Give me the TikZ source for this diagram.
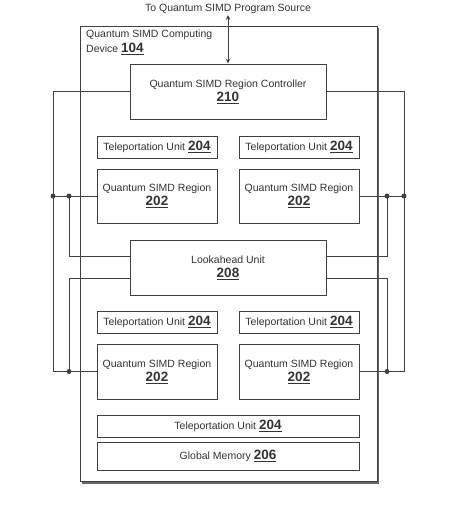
\documentclass[tikz,border=0pt]{standalone}
\usepackage{fontspec}
\setmainfont{Liberation Sans}
\usetikzlibrary{arrows.meta}
\newcommand{\rnum}[1]{{\fontsize{13.5}{13.5}\selectfont\bfseries\underline{#1}}}
\begin{document}
\begin{tikzpicture}[x=1pt,y=-1pt,
  box/.style={draw=black!75, line width=0.9pt, fill=white, text=black!80,
    font=\fontsize{10.5}{14}\selectfont, align=center, inner sep=0pt},
  wire/.style={draw=black!75, line width=0.9pt},
  dot/.style={circle, fill=black!75, inner sep=0pt, minimum size=5pt},
  lbl/.style={text=black!80, font=\fontsize{10.5}{15}\selectfont, inner sep=1pt}]
\useasboundingbox (0,0) rectangle (458,515);
% outer device box with shadow
\fill[black!60] (81.5,27.5) rectangle (379,483.5);
\node[draw=black!75, line width=0.9pt, fill=white, minimum width=297pt, minimum height=455pt, inner sep=0pt] (dev) at (228.5,253.5) {};
\node[lbl, anchor=north west, align=left, inner sep=0pt] (devlbl) at (86,30) {Quantum SIMD Computing\\Device \rnum{104}};
% source label
\node[lbl] (src) at (228,9) {To Quantum SIMD Program Source};
% boxes
\node[box, minimum width=196pt, minimum height=55pt] (ctrl) at (228,91.5) {Quantum SIMD Region Controller\\\rnum{210}};
\node[box, minimum width=120pt, minimum height=22pt] (t1L) at (157,147) {Teleportation Unit \rnum{204}};
\node[box, minimum width=120pt, minimum height=22pt] (t1R) at (299,147) {Teleportation Unit \rnum{204}};
\node[box, minimum width=120pt, minimum height=54pt] (r1L) at (157,196) {Quantum SIMD Region\\\rnum{202}};
\node[box, minimum width=120pt, minimum height=54pt] (r1R) at (299,196) {Quantum SIMD Region\\\rnum{202}};
\node[box, minimum width=196pt, minimum height=55pt] (la) at (228,267.5) {Lookahead Unit\\\rnum{208}};
\node[box, minimum width=120pt, minimum height=22pt] (t2L) at (157,322) {Teleportation Unit \rnum{204}};
\node[box, minimum width=120pt, minimum height=22pt] (t2R) at (299,322) {Teleportation Unit \rnum{204}};
\node[box, minimum width=120pt, minimum height=55pt] (r2L) at (157,371.5) {Quantum SIMD Region\\\rnum{202}};
\node[box, minimum width=120pt, minimum height=55pt] (r2R) at (299,371.5) {Quantum SIMD Region\\\rnum{202}};
\node[box, minimum width=262pt, minimum height=22pt] (tB) at (228,426) {Teleportation Unit \rnum{204}};
\node[box, minimum width=262pt, minimum height=28pt] (gm) at (228,456) {Global Memory \rnum{206}};
% arrow to source
\draw[wire, {Stealth[length=5pt,width=4.5pt]}-{Stealth[length=5pt,width=4.5pt]}] (src.south) -- (ctrl.north);
% wire coordinates
\coordinate (LA) at (53,196);
\coordinate (LB) at (69,196);
\coordinate (LC) at (53,371.5);
\coordinate (LD) at (69,371.5);
\coordinate (RA) at (404,196);
\coordinate (RB) at (387,196);
\coordinate (RC) at (404,371.5);
\coordinate (RD) at (387,371.5);
% left wires
\draw[wire] (ctrl.west) -| (LC) -- (r2L.west);
\draw[wire] (r1L.west) -- (LA);
\draw[wire] (LB) |- ([yshift=11.5pt]la.west);
\draw[wire] (LD) |- ([yshift=-10.5pt]la.west);
% right wires
\draw[wire] (ctrl.east) -| (RC) -- (r2R.east);
\draw[wire] (r1R.east) -- (RA);
\draw[wire] (RB) |- ([yshift=11.5pt]la.east);
\draw[wire] (RD) |- ([yshift=-10.5pt]la.east);
% junction dots
\node[dot] (dLA) at (LA) {};
\node[dot] (dLB) at (LB) {};
\node[dot] (dLD) at (LD) {};
\node[dot] (dRA) at (RA) {};
\node[dot] (dRB) at (RB) {};
\node[dot] (dRD) at (RD) {};
\end{tikzpicture}
\end{document}
